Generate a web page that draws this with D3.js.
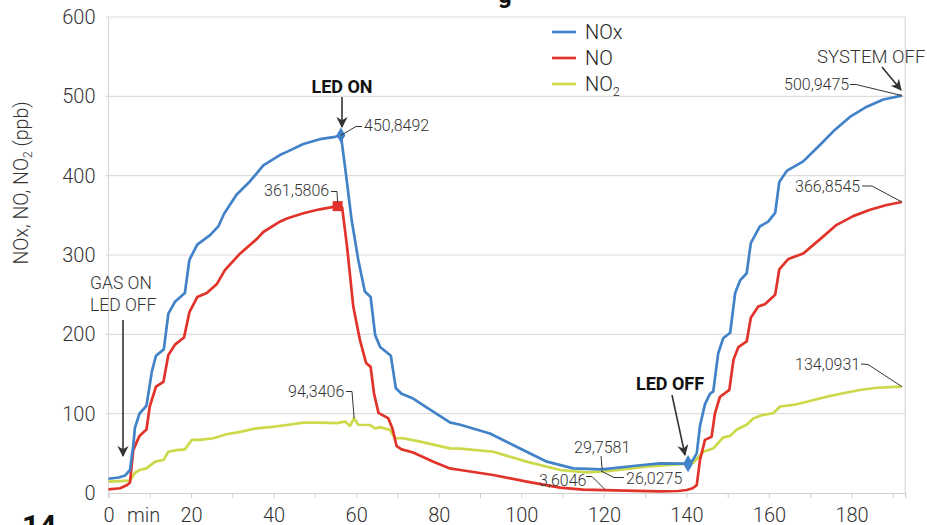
<!DOCTYPE html>
<html><head><meta charset="utf-8">
<script src="https://cdn.jsdelivr.net/npm/d3@7"></script>
<style>
html,body{margin:0;padding:0;background:#fff;}
svg{display:block;font-family:Roboto,"Noto Sans",sans-serif;}
</style></head>
<body>
<svg id="chart" width="927" height="525"></svg>
<script>
// ---- data (minutes, ppb) ----
const seriesNames = ["NOx", "NO", "NO2"];
const xTicks = [0, 20, 40, 60, 80, 100, 120, 140, 160, 180];
const yTicks = [0, 100, 200, 300, 400, 500, 600];
const noxData = [[0,18],[2.5,19.5],[4,22],[5.2,29],[6,60],[6.4,82],[7.5,100],[9.2,110],[10.5,153],[11.5,173],[13.4,181],[14.5,226],[16.1,241],[18.5,252],[19.6,294],[21.5,313],[24.6,325],[26.6,336],[28,352],[31,376],[34.3,393],[37.5,413],[41.5,426],[43.2,430],[47.2,440],[51.2,446],[54.9,449],[56.3,450.8492],[57.3,411],[58.9,344],[60.5,294],[62.1,254],[63.5,247],[64.6,199],[65.8,184],[68.4,173],[69.6,132],[71,125],[73.8,119],[77.9,105],[82.7,89],[85.2,86],[92.4,75],[99.7,56],[106.2,39.5],[112.6,31],[119.6,29.7581],[127.1,34],[133.6,37.4],[140.4,37],[141.5,41],[142.5,50],[143.3,85],[144.5,112],[145.7,125],[146.5,128],[147.7,176],[148.9,195],[150.6,202],[151.8,252],[153,268],[154.6,277],[155.6,315],[157.8,336],[159.8,342],[161.5,353],[162.5,392],[164.3,406],[168.3,418],[172.4,439],[176,458],[179.6,474],[183.7,487],[187.7,496],[192.2,500.9475]];
const noData = [[0,4.5],[2.8,6],[4.5,10],[5.2,13],[6,54],[7.5,72],[9.2,80],[10,109],[11.5,134],[13.3,140],[14.5,174],[16.1,187],[18.3,196],[19.6,228],[21.5,247],[23.8,252],[26.2,263],[28.2,281],[31.9,302],[35.9,320],[37.5,329],[41.5,342],[43.2,346],[47.2,352.6],[51.2,357.6],[55.5,361.5806],[56.6,360],[57.8,310],[59.3,235],[60.9,193],[62.4,164],[63.5,159],[64.3,126],[65.4,101],[67.8,94],[68.8,81],[69.8,59],[71,55],[73.8,51],[78.7,39.5],[82.7,31],[85.2,29],[93.2,22.7],[101.3,14.3],[109.4,6.7],[115,4.2],[120,3.6046],[133.6,2],[138,2.5],[140.1,3.8],[141.5,6],[142.5,10],[143.3,42],[144.5,67],[146.1,71],[146.9,100],[148.1,121],[150.4,130],[151.4,168],[152.6,184],[154.6,191],[155.6,221],[157.4,235],[159,238],[161.5,250],[162.5,282],[164.7,295],[168.3,302],[172.4,320],[176.4,338],[180.4,349],[184.5,357],[188.5,363],[192.2,366.8545]];
const no2Data = [[0,14.3],[5.2,15.5],[6.4,25.6],[7.6,29],[9.2,31],[11.3,39.5],[13.3,41.6],[14.5,52],[16.5,54],[18.5,55],[20.2,67],[22.2,67],[25.4,69],[28.6,74],[31.9,77],[35.9,81.5],[39.1,83],[43.2,85.7],[47.2,88.6],[51.2,88.6],[55.3,88],[57.3,90],[58.5,84.5],[59.5,94.3406],[60.5,86],[63.3,85.7],[64.6,81.5],[65.8,83],[68.2,79.4],[69.4,69],[71.4,69],[75.5,64.7],[82.7,56.3],[85.2,56],[93.2,52],[101.3,39.5],[109.4,29],[115.8,26.0275],[121.5,27.7],[129.6,33],[139.2,36.6],[141.7,38.2],[144.1,52],[146.5,56.3],[148.9,70],[150.6,72],[152.2,80],[154.6,86],[156.2,94],[158.2,98],[161,100.5],[162.7,109],[165.9,111],[169.9,116],[174,121.4],[178,125.7],[182,129.8],[186.1,132.7],[192.2,134.0931]];
// labelled points [series, minute, value, label]
const valueLabels = [
  ["NOx", 56.3, 450.8492, "450,8492"],
  ["NO", 55.5, 361.5806, "361,5806"],
  ["NO2", 59.5, 94.3406, "94,3406"],
  ["NOx", 119.6, 29.7581, "29,7581"],
  ["NO2", 115.8, 26.0275, "26,0275"],
  ["NO", 120, 3.6046, "3,6046"],
  ["NOx", 192.2, 500.9475, "500,9475"],
  ["NO", 192.2, 366.8545, "366,8545"],
  ["NO2", 192.2, 134.0931, "134,0931"]
];

const colors = {NOx:"#4282c8", NO:"#e2332b", NO2:"#cbd94a"};
const svg = d3.select("#chart");
const x = d3.scaleLinear().domain([0, 193]).range([108.5, 905.2]);
const y = d3.scaleLinear().domain([0, 600]).range([493, 17]);

// grid
svg.append("g").selectAll("line").data(yTicks.filter(d=>d>0)).join("line")
  .attr("x1", x(0)-3).attr("x2", x(193)).attr("y1", d=>y(d)).attr("y2", d=>y(d))
  .attr("stroke", "#dedede").attr("stroke-width", 1.2);
// frame
svg.append("line").attr("x1", x(0)).attr("x2", x(0)).attr("y1", y(600)).attr("y2", y(0)).attr("stroke","#d9d9d9").attr("stroke-width",1.2);
svg.append("line").attr("x1", x(193)).attr("x2", x(193)).attr("y1", y(600)).attr("y2", y(0)).attr("stroke","#d9d9d9").attr("stroke-width",1.2);

// x axis
const xAxis = d3.axisBottom(x).tickValues(d3.range(0, 191, 10)).tickSize(5).tickFormat(d => xTicks.includes(d) ? d : "");
const gx = svg.append("g").attr("transform", `translate(0,${y(0)})`).call(xAxis);
gx.select(".domain").attr("stroke", "#cfcfcf").attr("stroke-width", 1.2);
gx.selectAll(".tick line").attr("stroke", "#cfcfcf");
gx.selectAll("text").attr("font-size", 20).attr("font-weight", 300).attr("fill", "#333")
  .attr("font-family", "Roboto").attr("dy", 0).attr("y", 28.5);
svg.append("text").attr("x", 127).attr("y", y(0)+28.5).attr("font-size", 20).attr("font-weight", 300)
  .attr("fill", "#333").text("min");

// y axis
const yAxis = d3.axisLeft(y).tickValues(yTicks).tickSize(0).tickPadding(13);
const gy = svg.append("g").attr("transform", `translate(${x(0)},0)`).call(yAxis);
gy.select(".domain").remove();
gy.selectAll("text").attr("font-size", 20).attr("font-weight", 300).attr("fill", "#333").attr("font-family", "Roboto");

// y title
const yt = svg.append("text").attr("transform", "translate(28,183) rotate(-90)")
  .attr("text-anchor", "middle").attr("font-size", 19.5).attr("font-weight", 300).attr("fill", "#333");
yt.append("tspan").text("NOx, NO, NO");
yt.append("tspan").attr("font-size", 12).attr("dy", 4).text("2");
yt.append("tspan").attr("dy", -4).text(" (ppb)");

// lines
const line = d3.line().x(d => x(d[0])).y(d => y(d[1]));
const seriesData = {NOx: noxData, NO: noData, NO2: no2Data};
["NO2", "NO", "NOx"].forEach(k => {
  svg.append("path").datum(seriesData[k]).attr("d", line).attr("fill", "none")
    .attr("stroke", colors[k]).attr("stroke-width", 2.7).attr("stroke-linejoin", "round");
});

// markers
const d1 = noxData.find(d => d[0] === 56.3);
svg.append("path").attr("d", d3.symbol(d3.symbolDiamond, 70)()).attr("fill", colors.NOx)
  .attr("transform", `translate(${x(d1[0])},${y(d1[1])})`);
const s1 = noData.find(d => d[0] === 55.5);
svg.append("rect").attr("x", x(s1[0])-5).attr("y", y(s1[1])-5).attr("width", 10).attr("height", 10).attr("fill", colors.NO);
svg.append("path").attr("d", d3.symbol(d3.symbolDiamond, 85)()).attr("fill", colors.NOx)
  .attr("transform", `translate(${x(140.4)},${y(37)})`);

// legend
const legend = svg.append("g");
seriesNames.forEach((k, i) => {
  const ly = 32 + i * 26;
  legend.append("line").attr("x1", 552).attr("x2", 576).attr("y1", ly).attr("y2", ly)
    .attr("stroke", colors[k]).attr("stroke-width", 2.7);
  const t = legend.append("text").attr("x", 585).attr("y", ly + 7).attr("font-size", 20)
    .attr("font-weight", 300).attr("fill", "#222");
  if (k === "NO2") { t.append("tspan").text("NO"); t.append("tspan").attr("font-size", 12.5).attr("dy", 5).text("2"); }
  else t.text(k);
});

// arrow marker
const defs = svg.append("defs");
defs.append("marker").attr("id", "arr").attr("viewBox", "0 0 10 10").attr("refX", 9).attr("refY", 5)
  .attr("markerWidth", 7).attr("markerHeight", 7).attr("orient", "auto-start-reverse")
  .append("path").attr("d", "M0,0 L10,5 L0,10 L3,5 Z").attr("fill", "#333");
function arrow(x1, y1, x2, y2) {
  svg.append("line").attr("x1", x1).attr("y1", y1).attr("x2", x2).attr("y2", y2)
    .attr("stroke", "#333").attr("stroke-width", 1.6).attr("marker-end", "url(#arr)");
}
function txt(xp, yp, s, opts = {}) {
  return svg.append("text").attr("x", xp).attr("y", yp).attr("font-size", opts.size || 16)
    .attr("font-weight", opts.weight || 300).attr("fill", opts.fill || "#333")
    .attr("text-anchor", opts.anchor || "start").attr("font-family", "Roboto").text(s);
}
function leader(pts) {
  svg.append("path").attr("d", d3.line()(pts)).attr("fill", "none").attr("stroke", "#333").attr("stroke-width", 1);
}

// event annotations
txt(342, 92.5, "LED ON", {size: 18, weight: 700, anchor: "middle", fill: "#111"});
arrow(342, 97, 342, 127);
txt(670, 390, "LED OFF", {size: 18, weight: 700, anchor: "middle", fill: "#111"});
arrow(672, 395, 685, 455);
txt(90, 289, "GAS ON", {size: 17.5});
txt(90, 310.5, "LED OFF", {size: 17.5});
arrow(123, 320, 123, 456);
txt(817, 63, "SYSTEM OFF", {size: 18.5});
arrow(882, 67, 901, 90);

// value labels with leaders
const P = (k, t, v) => [x(t), y(v)];
let p;
p = P(...valueLabels[0]); txt(364, 131, valueLabels[0][3]); leader([[362,126.5],[356,126.5],[p[0],p[1]]]);
p = P(...valueLabels[1]); txt(264, 196, valueLabels[1][3]); leader([[331,191.5],[337,191.5],[p[0],p[1]-4]]);
p = P(...valueLabels[2]); txt(288, 397, valueLabels[2][3]); leader([[346,391.5],[352,391.5],[p[0],p[1]]]);
p = P(...valueLabels[3]); txt(574, 453, valueLabels[3][3]); leader([[601,456],[p[0],p[1]]]);
p = P(...valueLabels[4]); txt(626, 484, valueLabels[4][3]); leader([[624,477.5],[614,477.5],[601,471]]);
p = P(...valueLabels[5]); txt(539, 486, valueLabels[5][3]); leader([[586,476.5],[592,476.5],[605,489.5]]);
p = P(...valueLabels[6]); txt(784, 90, valueLabels[6][3]); leader([[850,84.5],[856,84.5],[p[0],p[1]]]);
p = P(...valueLabels[7]); txt(795, 192, valueLabels[7][3]); leader([[862,186],[872,186],[p[0],p[1]]]);
p = P(...valueLabels[8]); txt(795, 369.5, valueLabels[8][3]); leader([[861,364],[868,364.5],[p[0],p[1]]]);

// cut-off page elements
txt(22, 536, "14", {size: 30, weight: 700, fill: "#111"});
txt(498, 3, "g", {size: 24, weight: 700, fill: "#111"});
</script>
</body></html>
